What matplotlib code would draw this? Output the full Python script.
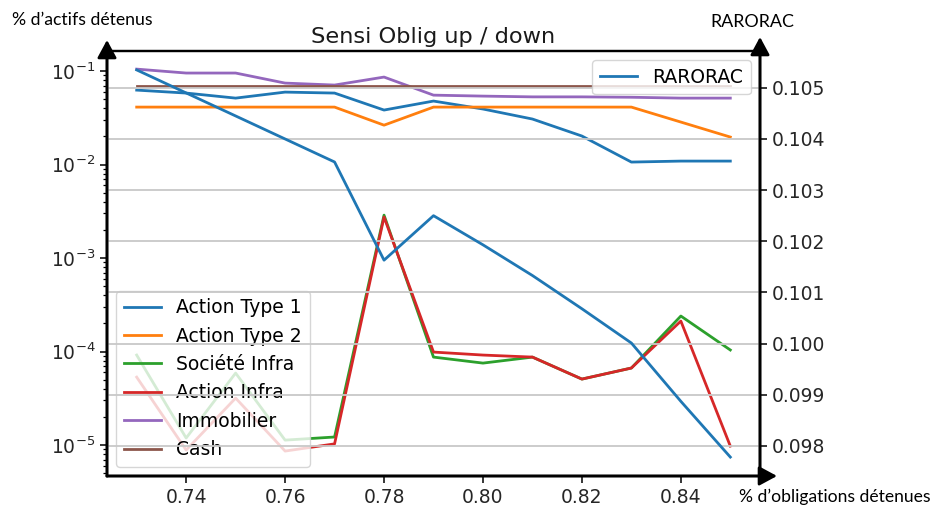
import matplotlib
matplotlib.use('Agg')
import matplotlib.pyplot as plt
from matplotlib.ticker import FormatStrFormatter, MultipleLocator

x = [0.73, 0.74, 0.75, 0.76, 0.77, 0.78, 0.79, 0.80, 0.81, 0.82, 0.83, 0.84, 0.85]

action_type_1 = [0.0626, 0.0582, 0.0514, 0.0596, 0.0582, 0.0383, 0.0478, 0.0393, 0.0307, 0.0202, 0.01064, 0.0109, 0.0109]
action_type_2 = [0.0412, 0.0412, 0.0412, 0.0412, 0.0412, 0.0264, 0.0412, 0.0412, 0.0412, 0.0412, 0.0412, 0.0285, 0.0197]
societe_infra = [9.18e-5, 1.19e-5, 5.89e-5, 1.13e-5, 1.22e-5, 2.88e-3, 8.73e-5, 7.53e-5, 8.73e-5, 5.08e-5, 6.67e-5, 2.40e-4, 1.04e-4]
action_infra = [5.33e-5, 8.85e-6, 3.18e-5, 8.63e-6, 1.03e-5, 2.75e-3, 9.88e-5, 9.18e-5, 8.73e-5, 5.08e-5, 6.67e-5, 2.12e-4, 9.75e-6]
immobilier = [0.105, 0.0953, 0.0953, 0.0744, 0.0709, 0.0863, 0.0553, 0.054, 0.053, 0.053, 0.0525, 0.0514, 0.0514]
cash = [0.0692] * 13
rarorac = [0.10535, 0.10490, 0.10445, 0.10400, 0.10355, 0.10163, 0.10250, 0.10193, 0.10133, 0.10068, 0.10001, 0.09887, 0.09778]

series = [
    ("Action Type 1", action_type_1, "#1f77b4"),
    ("Action Type 2", action_type_2, "#ff7f0e"),
    ("Société Infra", societe_infra, "#2ca02c"),
    ("Action Infra", action_infra, "#d62728"),
    ("Immobilier", immobilier, "#9467bd"),
    ("Cash", cash, "#8c564b"),
]

fig = plt.figure(figsize=(9.33, 5.08), dpi=100)
L, R, T, B = 107, 760, 51, 476
W, H = 933, 508
ax = fig.add_axes([L / W, 1 - B / H, (R - L) / W, (B - T) / H])

for name, vals, col in series:
    ax.plot(x, vals, color=col, lw=2.0, label=name)
ax.set_yscale('log')
ax.set_ylim(4.67e-6, 0.164)
ax.set_xlim(0.724, 0.856)
ax.xaxis.set_major_locator(MultipleLocator(0.02))
ax.xaxis.set_major_formatter(FormatStrFormatter('%.2f'))
ax.tick_params(axis='both', which='major', labelsize=13.5, length=5, width=1.1, labelcolor='#262626')
ax.tick_params(axis='y', which='minor', length=3, width=0.9)
ax.legend(loc='lower left', fontsize=13.5)
ax.set_title('Sensi Oblig up / down', fontsize=16.2, color='#1a1a1a')

ax2 = ax.twinx()
ax2.plot(x, rarorac, color="#1f77b4", lw=2.0, label='RARORAC')
ax2.set_ylim(0.09741, 0.10572)
ax2.yaxis.set_major_locator(MultipleLocator(0.001))
ax2.yaxis.set_major_formatter(FormatStrFormatter('%.3f'))
ax2.tick_params(axis='y', labelsize=13.5, length=5, width=1.1, labelcolor='#262626')
ax2.grid(True, color='#c8c8c8', lw=1.3)
ax2.legend(loc='upper right', fontsize=13.5)

for a in (ax, ax2):
    for s in a.spines.values():
        s.set_linewidth(1.6)
        s.set_color('black')

arrow_style = '-|>,head_length=0.5,head_width=0.27'
def arrow(xy_from, xy_to):
    ax2.annotate('', xy=xy_to, xytext=xy_from, xycoords='axes fraction',
                 textcoords='axes fraction',
                 arrowprops=dict(arrowstyle=arrow_style, lw=2.0, color='black',
                                 mutation_scale=21.6, shrinkA=0, shrinkB=0),
                 annotation_clip=False)

arrow((0, 0), (0, 1 + (T - 40) / (B - T)))
arrow((1, 0), (1, 1 + (T - 37) / (B - T)))
arrow((0, 0), (1 + (777 - R) / (R - L), 0))

fig.text(82 / W, 1 - 20 / H, '% d’actifs détenus', ha='center', va='center', fontsize=12.7, family='Lato')
fig.text(752 / W, 1 - 22 / H, 'RARORAC', ha='center', va='center', fontsize=12.9, family='Lato')
fig.text(835 / W, 1 - 497 / H, '% d’obligations détenues', ha='center', va='center', fontsize=12.6, family='Lato')

fig.savefig('out.png', dpi=100)
